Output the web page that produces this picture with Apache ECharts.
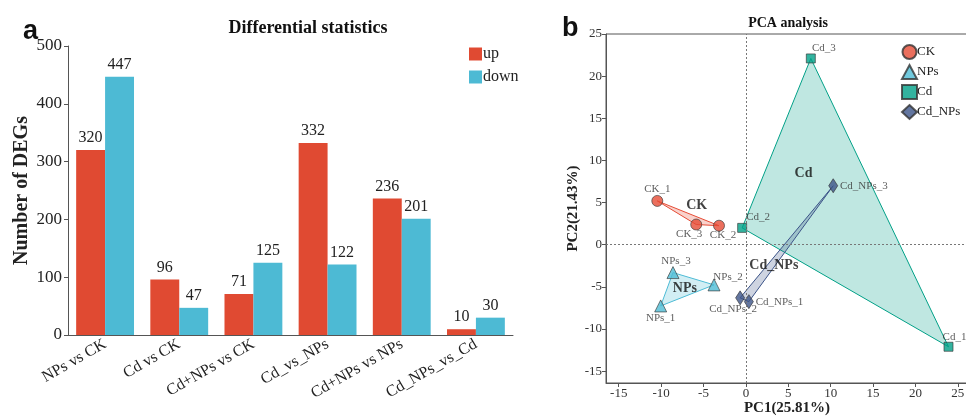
<!DOCTYPE html>
<html>
<head>
<meta charset="utf-8">
<script src="https://cdn.jsdelivr.net/npm/echarts@6/dist/echarts.min.js"></script>
<style>
  html, body { margin: 0; padding: 0; background: #fff; }
  #main { width: 966px; height: 417px; }
</style>
</head>
<body>
<div id="main"></div>
<script>
// 差异统计数据
const categories = ['NPs vs CK', 'Cd vs CK', 'Cd+NPs vs CK', 'Cd_vs_NPs', 'Cd+NPs vs NPs', 'Cd_NPs_vs_Cd'];
const upValues = [320, 96, 71, 332, 236, 10];
const downValues = [447, 47, 125, 122, 201, 30];

// PCA 数据 [PC1, PC2, 样本名]
const ckPoints = [[-10.45, 5.2, 'CK_1'], [-3.17, 2.26, 'CK_2'], [-5.86, 2.4, 'CK_3']];
const npsPoints = [[-10.05, -7.26, 'NPs_1'], [-3.76, -4.76, 'NPs_2'], [-8.6, -3.3, 'NPs_3']];
const cdPoints = [[23.9, -12.1, 'Cd_1'], [-0.44, 2.0, 'Cd_2'], [7.66, 22.1, 'Cd_3']];
const cdNpsPoints = [[0.35, -6.75, 'Cd_NPs_1'], [-0.68, -6.3, 'Cd_NPs_2'], [10.3, 7.0, 'Cd_NPs_3']];
const groupNames = ['CK', 'NPs', 'Cd', 'Cd_NPs'];
const groupLabelAt = [[-5.8, 4.7], [-7.2, -5.2], [6.8, 8.45], [3.3, -2.5]];
const pc1Ticks = [-15, -10, -5, 0, 5, 10, 15, 20, 25];
const pc2Ticks = [-15, -10, -5, 0, 5, 10, 15, 20, 25];

const serif = 'Liberation Serif';
const txt = '#222';

const chart = echarts.init(document.getElementById('main'));

// 样本标签放置 [position, dx, dy]
function lbl(pos, dx, dy) {
  return { position: pos, offset: [dx || 0, dy || 0] };
}

function pcaGroup(name, pts, color, symbol, size, labels) {
  return [
    {
      type: 'custom',
      xAxisIndex: 1,
      yAxisIndex: 1,
      silent: true,
      z: 1,
      data: [0],
      renderItem: (params, api) => ({
        type: 'polygon',
        shape: { points: pts.map(p => api.coord([p[0], p[1]])) },
        style: { fill: echarts.color.modifyAlpha(color, 0.25), stroke: color, lineWidth: 1 }
      })
    },
    {
      name: name,
      type: 'scatter',
      xAxisIndex: 1,
      yAxisIndex: 1,
      symbol: symbol,
      symbolSize: size,
      z: 3,
      itemStyle: { color: color, borderColor: '#333', borderWidth: 0.8 },
      label: {
        show: true,
        formatter: p => p.value[2],
        fontFamily: serif,
        fontSize: 11,
        color: '#333',
        distance: 0
      },
      data: pts.map((p, i) => ({ value: p, label: labels[i] }))
    }
  ];
}

const option = {
  animation: false,
  title: [
    { text: 'a', left: 18, top: 13, textStyle: { fontFamily: 'Liberation Sans', fontSize: 27, fontWeight: 'bold', color: '#111' } },
    { text: 'Differential statistics', left: 303, top: 14, textAlign: 'center', textStyle: { fontFamily: serif, fontSize: 18, fontWeight: 'bold', color: '#111' } },
    { text: 'b', left: 557, top: 10, textStyle: { fontFamily: 'Liberation Sans', fontSize: 27, fontWeight: 'bold', color: '#111' } },
    { text: 'PCA analysis', left: 783, top: 11, textAlign: 'center', textStyle: { fontFamily: serif, fontSize: 14, fontWeight: 'bold', color: '#111' } }
  ],
  legend: [
    {
      data: ['up', 'down'],
      orient: 'vertical',
      left: 464,
      top: 41,
      icon: 'rect',
      itemWidth: 13,
      itemHeight: 13,
      itemGap: 7,
      textStyle: { fontFamily: serif, fontSize: 16, color: txt, padding: [0, 0, 0, -4] }
    },
    {
      data: groupNames,
      orient: 'vertical',
      left: 896,
      top: 39,
      itemWidth: 15,
      itemHeight: 14,
      itemGap: 4,
      textStyle: { fontFamily: serif, fontSize: 13, color: txt, padding: [0, 0, 0, -5] }
    }
  ],
  grid: [
    { left: 68, top: 46, right: 453, bottom: 82, outerBoundsMode: 'none' },
    { left: 606, top: 34, right: -2, bottom: 34, outerBoundsMode: 'none', show: true, borderColor: '#555', borderWidth: 1 }
  ],
  xAxis: [
    {
      type: 'category',
      gridIndex: 0,
      data: categories,
      axisLine: { lineStyle: { color: '#555' } },
      axisTick: { alignWithLabel: true, length: 4, lineStyle: { color: '#555' } },
      axisLabel: { interval: 0, rotate: 30, fontFamily: serif, fontSize: 16, color: txt, margin: 8 }
    },
    {
      type: 'value',
      gridIndex: 1,
      min: -16.5,
      max: 26.2,
      name: 'PC1(25.81%)',
      nameLocation: 'middle',
      nameGap: 18,
      nameMoveOverlap: false,
      nameTextStyle: { fontFamily: serif, fontSize: 15, fontWeight: 'bold', color: txt },
      splitLine: { show: false },
      axisLine: { onZero: false, lineStyle: { color: '#555' } },
      axisTick: { show: true, length: 4, customValues: pc1Ticks, lineStyle: { color: '#555' } },
      axisLabel: { fontFamily: serif, fontSize: 13, color: '#333', margin: 4, customValues: pc1Ticks }
    }
  ],
  yAxis: [
    {
      type: 'value',
      gridIndex: 0,
      min: 0,
      max: 500,
      interval: 100,
      name: 'Number of DEGs',
      nameLocation: 'middle',
      nameGap: 36,
      nameTextStyle: { fontFamily: serif, fontSize: 20, fontWeight: 'bold', color: txt },
      splitLine: { show: false },
      axisLine: { show: true, lineStyle: { color: '#555' } },
      axisTick: { show: true, length: 4, lineStyle: { color: '#555' } },
      axisLabel: { fontFamily: serif, fontSize: 17, color: txt, margin: 6 }
    },
    {
      type: 'value',
      gridIndex: 1,
      min: -16.4,
      max: 25,
      name: 'PC2(21.43%)',
      nameLocation: 'middle',
      nameGap: 20,
      nameTextStyle: { fontFamily: serif, fontSize: 15, fontWeight: 'bold', color: txt },
      splitLine: { show: false },
      axisLine: { onZero: false, lineStyle: { color: '#555' } },
      axisTick: { show: true, length: 4, customValues: pc2Ticks, lineStyle: { color: '#555' } },
      axisLabel: { fontFamily: serif, fontSize: 13, color: '#333', margin: 4, customValues: pc2Ticks }
    }
  ],
  series: [
    {
      name: 'up',
      type: 'bar',
      xAxisIndex: 0,
      yAxisIndex: 0,
      barGap: '0%',
      barCategoryGap: '22%',
      itemStyle: { color: '#E04A32' },
      label: { show: true, position: 'top', fontFamily: serif, fontSize: 16, color: txt, distance: 4 },
      data: upValues
    },
    {
      name: 'down',
      type: 'bar',
      xAxisIndex: 0,
      yAxisIndex: 0,
      itemStyle: { color: '#4DBAD4' },
      label: { show: true, position: 'top', fontFamily: serif, fontSize: 16, color: txt, distance: 4 },
      data: downValues
    },
    ...pcaGroup('CK', ckPoints, '#E64B35', 'circle', 11,
      [lbl('top'), lbl('bottom', 4, -2), lbl('bottom', -7, -2)]),
    ...pcaGroup('NPs', npsPoints, '#4DBBD5', 'triangle', 12,
      [lbl('bottom'), lbl('top', 14, 4), lbl('top', 3)]),
    ...pcaGroup('Cd', cdPoints, '#00A087', 'rect', 9,
      [lbl('top', 6, 1), lbl('top', 16), lbl('top', 13)]),
    ...pcaGroup('Cd_NPs', cdNpsPoints, '#3C5488', 'diamond', [9, 14],
      [lbl('right', 2), lbl('bottom', -7, -2), lbl('right', 2)]),
    {
      // 组标签
      type: 'scatter',
      xAxisIndex: 1,
      yAxisIndex: 1,
      silent: true,
      symbolSize: 0,
      z: 4,
      label: {
        show: true,
        position: 'inside',
        formatter: p => groupNames[p.dataIndex],
        fontFamily: serif,
        fontSize: 14,
        fontWeight: 'bold',
        color: '#111'
      },
      data: groupLabelAt,
      markLine: {
        silent: true,
        symbol: 'none',
        label: { show: false },
        lineStyle: { color: '#777', type: [2, 2], width: 1 },
        data: [{ xAxis: 0 }, { yAxis: 0 }]
      }
    }
  ]
};

chart.setOption(option);
</script>
</body>
</html>
